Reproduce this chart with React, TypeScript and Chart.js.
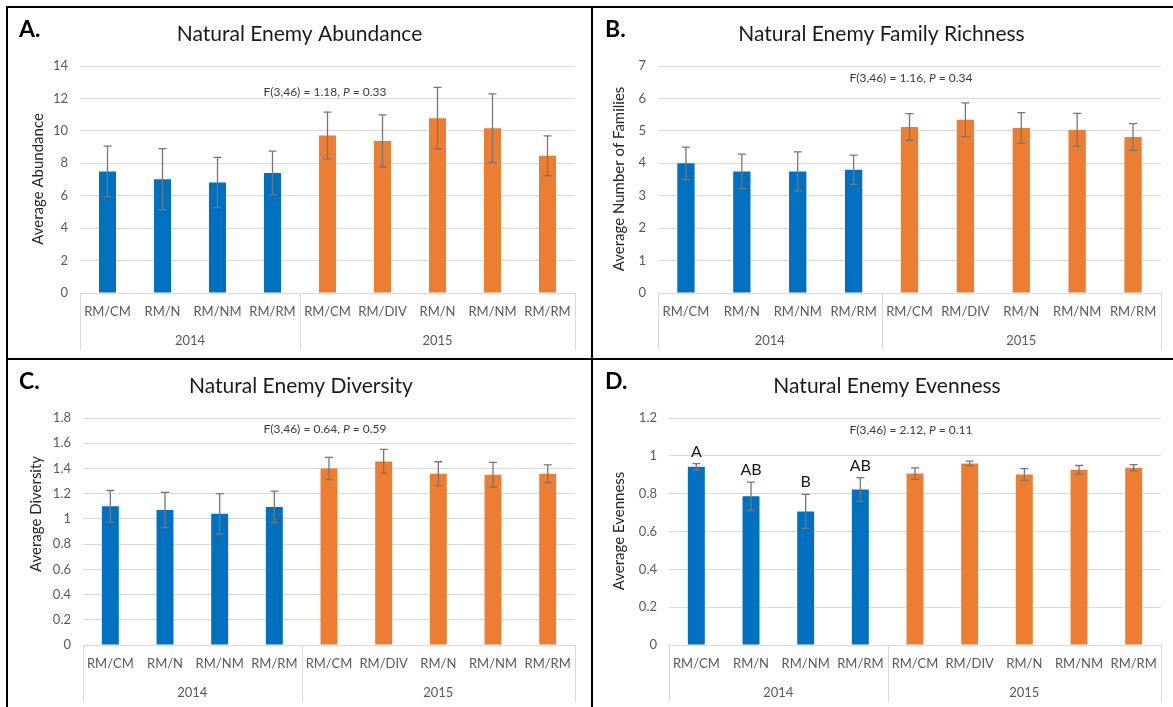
import React, { useEffect, useRef } from "react";
import { Chart, registerables } from "chart.js";

Chart.register(...registerables);

// ---------- data ----------
const categories = ["RM/CM", "RM/N", "RM/NM", "RM/RM", "RM/CM", "RM/DIV", "RM/N", "RM/NM", "RM/RM"];
const yearLabels = ["2014", "2015"];
const yearCounts = [4, 5];

const abundance = [7.5, 7.02, 6.81, 7.4, 9.71, 9.38, 10.78, 10.16, 8.46];
const abundanceErr = [1.56, 1.88, 1.55, 1.35, 1.44, 1.61, 1.9, 2.12, 1.23];

const families = [4.0, 3.75, 3.75, 3.8, 5.12, 5.34, 5.09, 5.03, 4.81];
const familiesErr = [0.5, 0.53, 0.6, 0.45, 0.41, 0.52, 0.47, 0.51, 0.41];

const diversity = [1.1, 1.07, 1.04, 1.095, 1.4, 1.456, 1.358, 1.35, 1.358];
const diversityErr = [0.125, 0.14, 0.16, 0.125, 0.088, 0.095, 0.095, 0.098, 0.07];

const evenness = [0.942, 0.786, 0.706, 0.822, 0.906, 0.96, 0.901, 0.926, 0.937];
const evennessErr = [0.017, 0.075, 0.09, 0.063, 0.03, 0.012, 0.031, 0.023, 0.016];
const evennessLetters = ["A", "AB", "B", "AB", "", "", "", "", ""];

// ---------- style ----------
const BLUE = "#0070C0";
const ORANGE = "#ED7D31";
const FONT = "Lato, 'Noto Sans', sans-serif";
const TICK_COLOR = "#595959";
const GRID_COLOR = "#D9D9D9";

type PanelSpec = {
  letter: string;
  title: string;
  yTitle: string;
  statPre: string;
  statPost: string;
  values: number[];
  errors: number[];
  sigLetters?: string[];
  yMax: number;
  yStep: number;
  left: number;
  top: number;
  width: number;
  height: number;
  plotLeft: number;
  plotTop: number;
  plotRight: number;
  plotBottom: number;
  yTitleX: number;
  yTitleY: number;
  statY: number;
};

const barColors = (): string[] => {
  const out: string[] = [];
  yearCounts.forEach((c, gi) => {
    for (let i = 0; i < c; i++) out.push(gi === 0 ? BLUE : ORANGE);
  });
  return out;
};

const panels: PanelSpec[] = [
  {
    letter: "A.",
    title: "Natural Enemy Abundance",
    yTitle: "Average Abundance",
    statPre: "F(3,46) = 1.18, ",
    statPost: " = 0.33",
    values: abundance,
    errors: abundanceErr,
    yMax: 14,
    yStep: 2,
    left: 8,
    top: 8,
    width: 584,
    height: 350,
    plotLeft: 72,
    plotTop: 58,
    plotRight: 567,
    plotBottom: 285,
    yTitleX: 30,
    yTitleY: 171,
    statY: 88,
  },
  {
    letter: "B.",
    title: "Natural Enemy Family Richness",
    yTitle: "Average Number of Families",
    statPre: "F(3,46) = 1.16, ",
    statPost: " = 0.34",
    values: families,
    errors: familiesErr,
    yMax: 7,
    yStep: 1,
    left: 594,
    top: 8,
    width: 579,
    height: 350,
    plotLeft: 64,
    plotTop: 58,
    plotRight: 567,
    plotBottom: 285,
    yTitleX: 25,
    yTitleY: 171,
    statY: 74,
  },
  {
    letter: "C.",
    title: "Natural Enemy Diversity",
    yTitle: "Average Diversity",
    statPre: "F(3,46) = 0.64, ",
    statPost: " = 0.59",
    values: diversity,
    errors: diversityErr,
    yMax: 1.8,
    yStep: 0.2,
    left: 8,
    top: 360,
    width: 584,
    height: 347,
    plotLeft: 75,
    plotTop: 58,
    plotRight: 567,
    plotBottom: 285,
    yTitleX: 28,
    yTitleY: 154,
    statY: 73,
  },
  {
    letter: "D.",
    title: "Natural Enemy Evenness",
    yTitle: "Average Evenness",
    statPre: "F(3,46) = 2.12, ",
    statPost: " = 0.11",
    values: evenness,
    errors: evennessErr,
    sigLetters: evennessLetters,
    yMax: 1.2,
    yStep: 0.2,
    left: 594,
    top: 360,
    width: 579,
    height: 347,
    plotLeft: 75,
    plotTop: 58,
    plotRight: 567,
    plotBottom: 285,
    yTitleX: 25,
    yTitleY: 171,
    statY: 74,
  },
];

function makeOverlay(p: PanelSpec) {
  return {
    id: "overlay" + p.letter,
    afterDatasetsDraw(chart: any) {
      const ctx: CanvasRenderingContext2D = chart.ctx;
      const ys = chart.scales.y;
      const meta = chart.getDatasetMeta(0);

      // error bars
      ctx.save();
      ctx.strokeStyle = "#767676";
      ctx.lineWidth = 1.3;
      meta.data.forEach((bar: any, i: number) => {
        const v = p.values[i];
        const e = p.errors[i];
        const x = bar.x;
        const yt = ys.getPixelForValue(v + e);
        const yb = ys.getPixelForValue(v - e);
        ctx.beginPath();
        ctx.moveTo(x, yt);
        ctx.lineTo(x, yb);
        ctx.moveTo(x - 4, yt);
        ctx.lineTo(x + 4, yt);
        ctx.moveTo(x - 4, yb);
        ctx.lineTo(x + 4, yb);
        ctx.stroke();
      });
      ctx.restore();

      // significance letters
      if (p.sigLetters) {
        ctx.save();
        ctx.font = `16px ${FONT}`;
        ctx.fillStyle = "#1a1a1a";
        ctx.textAlign = "center";
        ctx.textBaseline = "alphabetic";
        meta.data.forEach((bar: any, i: number) => {
          const s = p.sigLetters![i];
          if (!s) return;
          const yt = ys.getPixelForValue(p.values[i] + p.errors[i]);
          ctx.fillText(s, bar.x, yt - 7);
        });
        ctx.restore();
      }
    },
    afterDraw(chart: any) {
      const ctx: CanvasRenderingContext2D = chart.ctx;
      const xs = chart.scales.x;
      const area = chart.chartArea;
      const n = categories.length;
      const cw = (area.right - area.left) / n;

      // multi-level category separators and year labels
      ctx.save();
      ctx.strokeStyle = GRID_COLOR;
      ctx.lineWidth = 1;
      const sepBottom = area.bottom + 57;
      let start = 0;
      const bounds: number[] = [xs.getPixelForValue(0) - cw / 2];
      yearCounts.forEach((c) => {
        bounds.push(xs.getPixelForValue(start + c - 1) + cw / 2);
        start += c;
      });
      bounds.forEach((bx) => {
        const x = Math.round(bx) + 0.5;
        ctx.beginPath();
        ctx.moveTo(x, area.bottom);
        ctx.lineTo(x, sepBottom);
        ctx.stroke();
      });
      ctx.font = `13px ${FONT}`;
      ctx.fillStyle = TICK_COLOR;
      ctx.textAlign = "center";
      ctx.textBaseline = "middle";
      yearLabels.forEach((lab, gi) => {
        ctx.fillText(lab, (bounds[gi] + bounds[gi + 1]) / 2, area.bottom + 48);
      });
      ctx.restore();

      // panel letter
      ctx.save();
      ctx.font = `bold 23px ${FONT}`;
      ctx.fillStyle = "#000";
      ctx.textAlign = "left";
      ctx.textBaseline = "alphabetic";
      ctx.fillText(p.letter, 11, 29);

      // title
      ctx.font = `21px ${FONT}`;
      ctx.fillStyle = "#1a1a1a";
      ctx.textAlign = "center";
      ctx.fillText(p.title, (area.left + area.right) / 2 - 28, 33);

      // stat annotation
      const fs = 12;
      ctx.font = `${fs}px ${FONT}`;
      ctx.fillStyle = "#3a3a3a";
      ctx.textAlign = "left";
      const pre = p.statPre;
      const post = p.statPost;
      const wPre = ctx.measureText(pre).width;
      const wPost = ctx.measureText(post).width;
      ctx.font = `italic ${fs}px ${FONT}`;
      const wP = ctx.measureText("P").width;
      const total = wPre + wP + wPost;
      const cx = 317;
      const x0 = cx - total / 2;
      ctx.font = `${fs}px ${FONT}`;
      ctx.fillText(pre, x0, p.statY);
      ctx.font = `italic ${fs}px ${FONT}`;
      ctx.fillText("P", x0 + wPre, p.statY);
      ctx.font = `${fs}px ${FONT}`;
      ctx.fillText(post, x0 + wPre + wP, p.statY);

      // y axis title
      ctx.translate(p.yTitleX, p.yTitleY);
      ctx.rotate(-Math.PI / 2);
      ctx.font = `15px ${FONT}`;
      ctx.fillStyle = "#262626";
      ctx.textAlign = "center";
      ctx.textBaseline = "middle";
      ctx.fillText(p.yTitle, 0, 0);
      ctx.restore();
    },
  };
}

function Panel({ p }: { p: PanelSpec }) {
  const ref = useRef<HTMLCanvasElement | null>(null);
  useEffect(() => {
    if (!ref.current) return;
    const chart = new Chart(ref.current, {
      type: "bar",
      data: {
        labels: categories,
        datasets: [
          {
            data: p.values,
            backgroundColor: barColors(),
            borderWidth: 0,
            barPercentage: 0.31,
            categoryPercentage: 1,
          },
        ],
      },
      options: {
        responsive: false,
        animation: false,
        events: [],
        layout: {
          padding: { top: p.plotTop, right: p.width - p.plotRight, bottom: 0, left: 0 },
        },
        plugins: {
          legend: { display: false },
          tooltip: { enabled: false },
          title: { display: false },
        },
        scales: {
          x: {
            grid: { display: false, drawTicks: false },
            border: { display: true, color: GRID_COLOR, width: 1 },
            ticks: {
              font: { family: FONT, size: 13 },
              color: TICK_COLOR,
              padding: 11,
              maxRotation: 0,
              minRotation: 0,
              autoSkip: false,
            },
            afterFit: (s: any) => {
              s.height = p.height - p.plotBottom;
            },
          },
          y: {
            min: 0,
            max: p.yMax,
            grid: { color: GRID_COLOR, drawTicks: false, lineWidth: 1 },
            border: { display: false },
            ticks: {
              stepSize: p.yStep,
              font: { family: FONT, size: 13 },
              color: TICK_COLOR,
              padding: 12,
              callback: (v: any) => String(Number(Number(v).toFixed(2))),
            },
            afterFit: (s: any) => {
              s.width = p.plotLeft;
            },
          },
        },
      },
      plugins: [makeOverlay(p)],
    } as any);
    return () => chart.destroy();
  }, [p]);
  return (
    <canvas
      ref={ref}
      width={p.width}
      height={p.height}
      style={{ position: "absolute", left: p.left, top: p.top, width: p.width, height: p.height }}
    />
  );
}

export default function App() {
  const line = (l: number, t: number, w: number, h: number) => (
    <div style={{ position: "absolute", left: l, top: t, width: w, height: h, background: "#000" }} />
  );
  return (
    <div
      style={{
        position: "absolute",
        left: 0,
        top: 0,
        width: 1173,
        height: 707,
        background: "#fff",
        overflow: "hidden",
      }}
    >
      {panels.map((p) => (
        <Panel key={p.letter} p={p} />
      ))}
      {line(6, 6, 1167, 2)}
      {line(6, 6, 2, 701)}
      {line(6, 358, 1167, 2)}
      {line(591, 6, 2, 701)}
    </div>
  );
}
